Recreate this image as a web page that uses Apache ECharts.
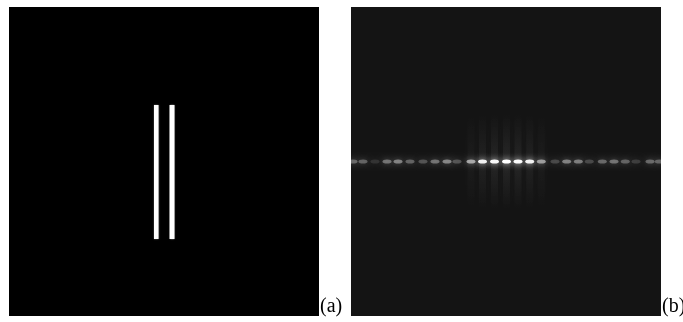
<!DOCTYPE html>
<html>
<head>
<meta charset="utf-8">
<script src="https://cdn.jsdelivr.net/npm/echarts@6/dist/echarts.min.js"></script>
<style>html,body{margin:0;padding:0;background:#fff}#c{width:683px;height:322px}</style>
</head>
<body>
<div id="c"></div>
<script>
// Panel (a): double slit, slit rectangles [x0, x1, y0, y1] in image pixel units (origin top-left)
var slitX0 = [145, 160.5];
var slitX1 = [149.5, 165.5];
var slitY0 = [98, 98];
var slitY1 = [232, 232];

// Panel (b): diffraction spots along the central row, x offset from centre (px) and brightness
var spotX = [-153, -143, -131, -119, -108, -96, -83, -71, -59, -49, -35, -23.5, -11.5, 0.5, 12, 23.7, 35.3, 49, 60.7, 72.3, 83.3, 96.3, 108, 119.3, 130, 144, 153.3];
var spotI = [0.30, 0.28, 0.10, 0.34, 0.40, 0.28, 0.22, 0.34, 0.42, 0.22, 0.55, 0.92, 0.97, 1.00, 0.97, 0.92, 0.50, 0.18, 0.40, 0.38, 0.18, 0.30, 0.34, 0.28, 0.14, 0.30, 0.28];
// faint vertical streaks around the central orders
var streakX = [-35, -23.5, -11.5, 0.5, 12, 23.7, 35.3];
var streakI = [0.025, 0.045, 0.055, 0.06, 0.055, 0.045, 0.025];

var chart = echarts.init(document.getElementById('c'), null, {renderer: 'canvas'});

var slitData = slitX0.map(function (x, i) { return [x, slitX1[i], slitY0[i], slitY1[i]]; });
var spotData = spotX.map(function (x, i) {
  return {value: [x, 0], itemStyle: {opacity: spotI[i]}};
});
var streakData = streakX.map(function (x, i) {
  return {value: [x, 0], itemStyle: {opacity: streakI[i]}};
});

chart.setOption({
  animation: false,
  backgroundColor: '#ffffff',
  grid: [
    {left: 9, top: 7, width: 310, height: 309, show: true, backgroundColor: '#000000', borderWidth: 0},
    {left: 351, top: 7, width: 310, height: 309, show: true, backgroundColor: '#141414', borderWidth: 0}
  ],
  xAxis: [
    {gridIndex: 0, type: 'value', min: 0, max: 310, show: false, splitLine: {show: false}},
    {gridIndex: 1, type: 'value', min: -155, max: 155, show: false, splitLine: {show: false}}
  ],
  yAxis: [
    {gridIndex: 0, type: 'value', min: 0, max: 309, inverse: true, show: false, splitLine: {show: false}},
    {gridIndex: 1, type: 'value', min: -154.5, max: 154.5, show: false, splitLine: {show: false}}
  ],
  series: [
    {
      type: 'custom',
      xAxisIndex: 0, yAxisIndex: 0,
      data: slitData,
      renderItem: function (params, api) {
        var p0 = api.coord([api.value(0), api.value(2)]);
        var p1 = api.coord([api.value(1), api.value(3)]);
        return {
          type: 'rect',
          shape: {x: p0[0], y: p0[1], width: p1[0] - p0[0], height: p1[1] - p0[1]},
          style: {fill: '#ffffff', shadowBlur: 1.5, shadowColor: 'rgba(255,255,255,0.6)'}
        };
      }
    },
    {
      type: 'scatter',
      xAxisIndex: 1, yAxisIndex: 1,
      symbol: 'rect',
      symbolSize: [7, 96],
      data: streakData,
      itemStyle: {
        color: {type: 'linear', x: 0, y: 0, x2: 0, y2: 1, colorStops: [
          {offset: 0, color: 'rgba(255,255,255,0)'},
          {offset: 0.5, color: 'rgba(255,255,255,1)'},
          {offset: 1, color: 'rgba(255,255,255,0)'}
        ]},
        shadowBlur: 6, shadowColor: 'rgba(255,255,255,0.6)'
      },
      silent: true
    },
    {
      type: 'scatter',
      xAxisIndex: 1, yAxisIndex: 1,
      symbol: 'circle',
      symbolSize: [9, 4],
      data: spotData,
      itemStyle: {color: '#ffffff', shadowBlur: 6, shadowColor: 'rgba(255,255,255,0.9)'},
      silent: true
    }
  ],
  graphic: [
    {type: 'text', left: 320, top: 297, style: {text: '(a)', font: '20px "Liberation Serif", serif', fill: '#000'}},
    {type: 'text', left: 662, top: 297, style: {text: '(b)', font: '20px "Liberation Serif", serif', fill: '#000'}}
  ]
});
</script>
</body>
</html>
